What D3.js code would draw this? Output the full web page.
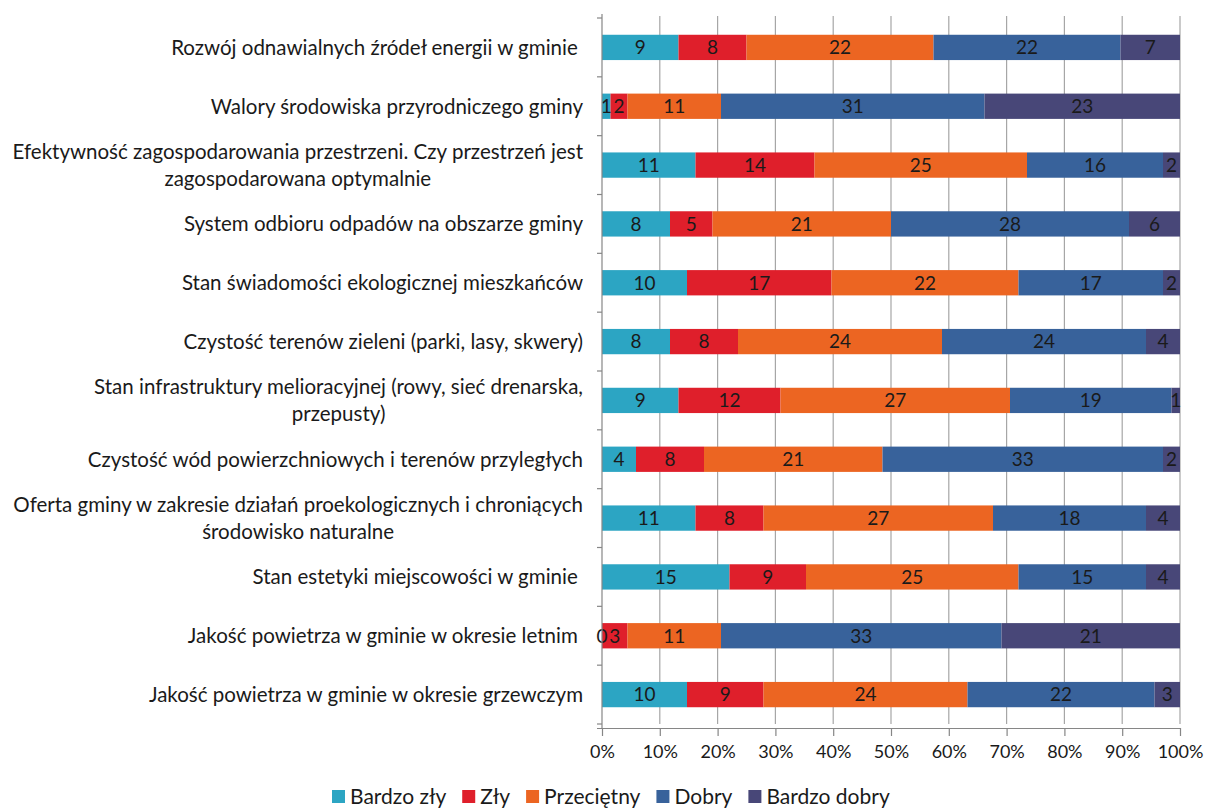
<!DOCTYPE html>
<html>
<head>
<meta charset="utf-8">
<script src="https://cdn.jsdelivr.net/npm/d3@7"></script>
<style>
  body { margin: 0; background: #fff; }
  svg text { font-family: Lato, "Open Sans", sans-serif; fill: #1a1a1a; white-space: pre; }
</style>
</head>
<body>
<div id="chart-area"></div>
<script>
const categories = [
    ["Rozwój odnawialnych źródeł energii w gminie "],
    ["Walory środowiska przyrodniczego gminy"],
    ["Efektywność zagospodarowania przestrzeni. Czy przestrzeń jest", "zagospodarowana optymalnie"],
    ["System odbioru odpadów na obszarze gminy"],
    ["Stan świadomości ekologicznej mieszkańców"],
    ["Czystość terenów zieleni (parki, lasy, skwery)"],
    ["Stan infrastruktury melioracyjnej (rowy, sieć drenarska,", "przepusty)"],
    ["Czystość wód powierzchniowych i terenów przyległych"],
    ["Oferta gminy w zakresie działań proekologicznych i chroniących", "środowisko naturalne"],
    ["Stan estetyki miejscowości w gminie "],
    ["Jakość powietrza w gminie w okresie letnim "],
    ["Jakość powietrza w gminie w okresie grzewczym"]
];

const seriesNames = ["Bardzo zły", "Zły", "Przeciętny", "Dobry", "Bardzo dobry"];
const seriesColors = ["#2ca5c3", "#df1f2b", "#ec6522", "#38629b", "#484778"];

const bardzoZly   = [9, 1, 11, 8, 10, 8, 9, 4, 11, 15, 0, 10];
const zly         = [8, 2, 14, 5, 17, 8, 12, 8, 8, 9, 3, 9];
const przecietny  = [22, 11, 25, 21, 22, 24, 27, 21, 27, 25, 11, 24];
const dobry       = [22, 31, 16, 28, 17, 24, 19, 33, 18, 15, 33, 22];
const bardzoDobry = [7, 23, 2, 6, 2, 4, 1, 2, 4, 4, 21, 3];

const xTicks = [0, 0.1, 0.2, 0.3, 0.4, 0.5, 0.6, 0.7, 0.8, 0.9, 1];

const margin = {left: 602, right: 27, top: 18, bottom: 84};
const chartSize = {width: 1207, height: 808};
const width = chartSize.width - margin.left - margin.right;
const height = chartSize.height - margin.top - margin.bottom;

const seriesValues = [bardzoZly, zly, przecietny, dobry, bardzoDobry];

const rows = categories.map((c, i) => {
    const row = {idx: i};
    seriesNames.forEach((s, j) => row[s] = seriesValues[j][i]);
    return row;
});

const stacked = d3.stack()
    .keys(seriesNames)
    .offset(d3.stackOffsetExpand)(rows);

const x = d3.scaleLinear().domain([0, 1]).range([0, width]);
const y = d3.scaleBand()
    .domain(d3.range(categories.length))
    .range([0, height])
    .paddingInner(0.57)
    .paddingOuter(0.285);

const svg = d3.select("#chart-area")
    .append("svg")
    .attr("width", chartSize.width)
    .attr("height", chartSize.height);

const g = svg.append("g").attr("transform", `translate(${margin.left}, ${margin.top})`);

// grid
g.selectAll(".grid")
    .data(xTicks.slice(1))
    .enter().append("line")
    .attr("x1", d => x(d)).attr("x2", d => x(d))
    .attr("y1", -2).attr("y2", height)
    .attr("stroke", "#a6a6a6")
    .attr("stroke-width", 1.2);

// bars
const layers = g.selectAll(".layer")
    .data(stacked)
    .enter().append("g")
    .attr("fill", (d, i) => seriesColors[i]);

layers.selectAll("rect")
    .data(d => d)
    .enter().append("rect")
    .attr("x", d => x(d[0]))
    .attr("y", (d, i) => y(i))
    .attr("width", d => x(d[1]) - x(d[0]))
    .attr("height", y.bandwidth());

// value labels, drawn after all bars
const labelData = stacked.flatMap(layer => layer.map((p, i) => ({p, i, key: layer.key})));
g.append("g").selectAll("text")
    .data(labelData)
    .enter().append("text")
    .attr("x", d => (x(d.p[0]) + x(d.p[1])) / 2)
    .attr("y", d => y(d.i) + y.bandwidth() / 2)
    .attr("dy", "0.36em")
    .attr("text-anchor", "middle")
    .attr("font-size", 19)
    .text(d => d.p.data[d.key]);

// x axis
const xAxis = d3.axisBottom(x)
    .tickValues(xTicks)
    .tickFormat(d3.format(".0%"))
    .tickSize(8)
    .tickPadding(9);

const xg = g.append("g")
    .attr("transform", `translate(0, ${height + 4})`)
    .call(xAxis);
xg.select(".domain").attr("stroke", "#868686").attr("stroke-width", 1.2)
    .attr("d", `M${-5},0.5H${width}`);
xg.selectAll(".tick line").attr("stroke", "#868686").attr("stroke-width", 1.2);
xg.selectAll(".tick text").attr("font-size", 18).attr("fill", "#1a1a1a")
    .style("font-family", "Lato, 'Open Sans', sans-serif");

// y axis line + ticks at band boundaries
const step = y.step();
const boundaries = d3.range(categories.length + 1).map(i => y(0) - y.paddingInner() * step / 2 + i * step);
g.append("line")
    .attr("x1", 0).attr("x2", 0)
    .attr("y1", -4).attr("y2", height + 4)
    .attr("stroke", "#868686").attr("stroke-width", 1.2);
g.selectAll(".ytick")
    .data(boundaries)
    .enter().append("line")
    .attr("x1", -5).attr("x2", 0)
    .attr("y1", d => d).attr("y2", d => d)
    .attr("stroke", "#868686").attr("stroke-width", 1.2);

// category labels
const labelRight = -19;
const lineH = 27;
categories.forEach((lines, i) => {
    const cy = y(i) + y.bandwidth() / 2;
    const t = g.append("text")
        .attr("font-size", 20.5)
        .attr("text-anchor", "middle");
    const spans = lines.map((ln, k) => t.append("tspan")
        .attr("y", cy + (k - (lines.length - 1) / 2) * lineH)
        .attr("dy", "0.36em")
        .text(ln));
    const maxW = d3.max(spans, s => s.node().getComputedTextLength());
    spans.forEach(s => s.attr("x", labelRight - maxW / 2));
});

// legend
const legend = svg.append("g").attr("transform", "translate(332, 796)");
let lx = 0;
seriesNames.forEach((name, i) => {
    const item = legend.append("g").attr("transform", `translate(${lx}, 0)`);
    item.append("rect")
        .attr("x", 0).attr("y", -6)
        .attr("width", 13).attr("height", 13)
        .attr("fill", seriesColors[i]);
    const txt = item.append("text")
        .attr("x", 18).attr("dy", "0.36em")
        .attr("font-size", 21)
        .text(name);
    lx += 18 + txt.node().getComputedTextLength() + 16;
});
</script>
</body>
</html>
